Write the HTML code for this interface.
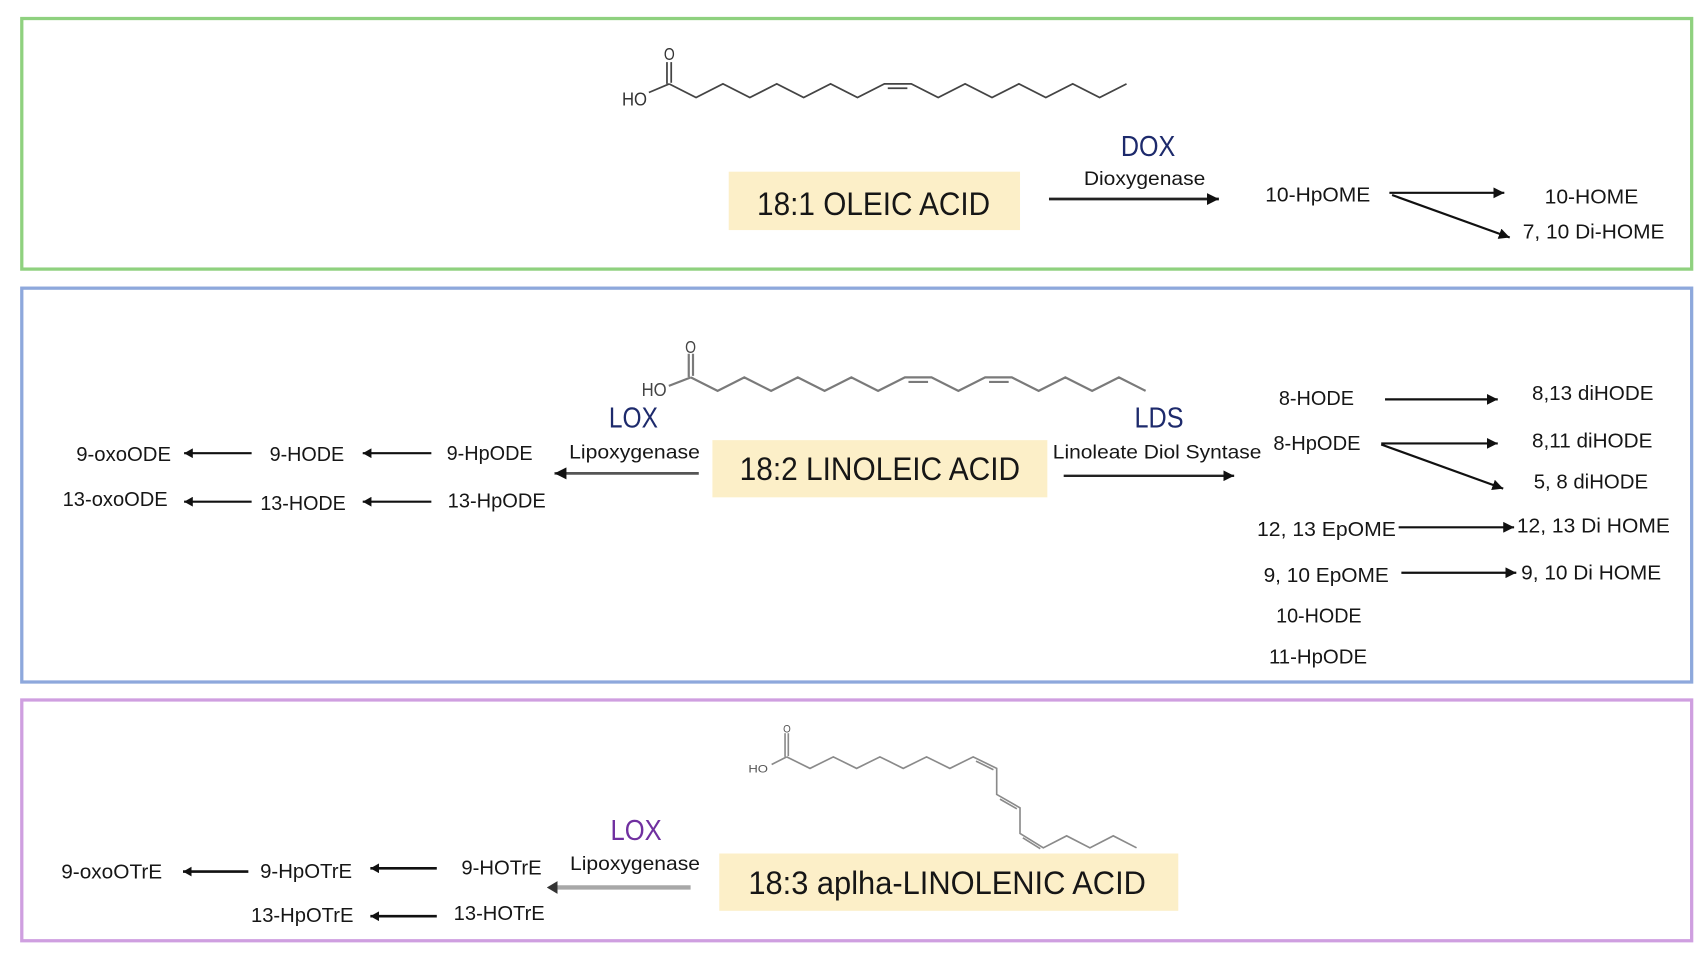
<!DOCTYPE html>
<html>
<head>
<meta charset="utf-8">
<style>
html,body{margin:0;padding:0;background:#fff;}
svg{display:block;}
text{font-family:"Liberation Sans",Arial,sans-serif;fill:#161616;}
.s{font-size:18.5px;}
.e{font-size:26px;fill:#1d2a6c;}
.p{font-size:26px;fill:#7030a0;}
.b{font-size:29.5px;}
.l{font-size:17.5px;}
</style>
</head>
<body>
<svg width="1708" height="962" viewBox="0 0 1568 883" preserveAspectRatio="none" xmlns="http://www.w3.org/2000/svg">
<defs>
<marker id="ah" viewBox="0 0 10 10" refX="10" refY="5" markerWidth="10" markerHeight="10" markerUnits="userSpaceOnUse" orient="auto">
<path d="M0,0 L10,5 L0,10 z" fill="#111"/>
</marker>
<marker id="ahb" viewBox="0 0 11 11" refX="11" refY="5.5" markerWidth="11" markerHeight="11" markerUnits="userSpaceOnUse" orient="auto">
<path d="M0,0 L11,5.5 L0,11 z" fill="#111"/>
</marker>
<marker id="ahs" viewBox="0 0 8 9" refX="8" refY="4.5" markerWidth="8" markerHeight="9" markerUnits="userSpaceOnUse" orient="auto">
<path d="M0,0 L8,4.5 L0,9 z" fill="#111"/>
</marker>
<marker id="ahg" viewBox="0 0 10 12" refX="4" refY="6" markerWidth="10" markerHeight="12" markerUnits="userSpaceOnUse" orient="auto">
<path d="M0,0 L10,6 L0,12 z" fill="#333"/>
</marker>
</defs>

<!-- section boxes -->
<rect x="20" y="17" width="1533" height="230" fill="none" stroke="#8fd17f" stroke-width="3"/>
<rect x="20" y="264.5" width="1533" height="361.5" fill="none" stroke="#8ea8dc" stroke-width="3"/>
<rect x="20" y="642.5" width="1533" height="221" fill="none" stroke="#cf9fe0" stroke-width="3"/>

<!-- yellow label boxes -->
<rect x="669" y="157.6" width="267.4" height="53.6" fill="#fcefc8"/>
<rect x="654" y="404" width="307.5" height="52.5" fill="#fcefc8"/>
<rect x="660.3" y="783.4" width="421.4" height="52.6" fill="#fcefc8"/>

<!-- ===== OLEIC structure ===== -->
<g stroke="#444" stroke-width="1.6" fill="none" stroke-linejoin="miter">
<polyline points="614.3,77 639,89.5 663.7,77 688.4,89.5 713.1,77 737.8,89.5 762.5,77 787.2,89.5 811.9,77 836.6,77 861.3,89.5 886,77 910.7,89.5 935.4,77 960.1,89.5 984.8,77 1009.5,89.5 1034.2,77"/>
<line x1="815" y1="81" x2="833" y2="81"/>
<line x1="612.3" y1="57" x2="612.3" y2="77"/>
<line x1="616.2" y1="57" x2="616.2" y2="76"/>
<line x1="595.7" y1="84.9" x2="614.3" y2="77"/>
</g>
<text x="609.5" y="55" style="font-size:16px;fill:#333" textLength="10" lengthAdjust="spacingAndGlyphs">O</text>
<text x="571" y="97" style="font-size:17px;fill:#333" textLength="23" lengthAdjust="spacingAndGlyphs">HO</text>

<!-- ===== LINOLEIC structure ===== -->
<g stroke="#7a7a7a" stroke-width="2" fill="none">
<polyline points="634.2,346.4 658.8,358.8 683.3,346.4 707.9,358.8 732.4,346.4 757,358.8 781.6,346.4 806.1,358.8 830.7,346.4 855.2,346.4 879.8,358.8 904.4,346.4 928.9,346.4 953.5,358.8 978,346.4 1002.6,358.8 1027.2,346.4 1051.7,358.8"/>
<line x1="834" y1="350.6" x2="852" y2="350.6"/>
<line x1="908" y1="350.6" x2="926" y2="350.6"/>
<line x1="632.3" y1="324.7" x2="632.3" y2="346"/>
<line x1="636.2" y1="324.7" x2="636.2" y2="345"/>
<line x1="614" y1="354.2" x2="634.2" y2="346.4"/>
</g>
<text x="629" y="324" style="font-size:16px;fill:#444" textLength="10" lengthAdjust="spacingAndGlyphs">O</text>
<text x="589" y="363.5" style="font-size:17px;fill:#444" textLength="23" lengthAdjust="spacingAndGlyphs">HO</text>

<!-- ===== LINOLENIC structure ===== -->
<g stroke="#8a8a8a" stroke-width="1.5" fill="none">
<polyline points="722.2,694.7 743.6,705.3 765,694.7 786.4,705.3 807.8,694.7 829.2,705.3 850.6,694.7 872,705.3 893.4,694.7 915,705.3 915,729.2 936.4,741.5 936.4,765 957.8,778.2 979.2,767.2 1000.6,778.2 1022,767.2 1043.4,778.2"/>
<line x1="896" y1="698.6" x2="912" y2="706.5"/>
<line x1="918" y1="733.5" x2="933.5" y2="742.4"/>
<line x1="939" y1="769" x2="955" y2="779"/>
<line x1="720.7" y1="673" x2="720.7" y2="694.7"/>
<line x1="723.7" y1="673" x2="723.7" y2="694"/>
<line x1="708.4" y1="701.7" x2="722.2" y2="694.7"/>
</g>
<text x="719" y="672.4" style="font-size:10px;fill:#555" textLength="7" lengthAdjust="spacingAndGlyphs">O</text>
<text x="687" y="709" style="font-size:10.5px;fill:#555" textLength="18" lengthAdjust="spacingAndGlyphs">HO</text>

<!-- ===== TOP section text ===== -->
<text class="b" x="695" y="197.4" textLength="214" lengthAdjust="spacingAndGlyphs">18:1 OLEIC ACID</text>
<text class="e" x="1029" y="143.2" textLength="50" lengthAdjust="spacingAndGlyphs">DOX</text>
<text class="l" x="995" y="169.8" textLength="111.5" lengthAdjust="spacingAndGlyphs">Dioxygenase</text>
<text class="s" x="1161.5" y="185.1" textLength="96.5" lengthAdjust="spacingAndGlyphs">10-HpOME</text>
<text class="s" x="1418" y="186.7" textLength="86" lengthAdjust="spacingAndGlyphs">10-HOME</text>
<text class="s" x="1398" y="218.8" textLength="130" lengthAdjust="spacingAndGlyphs">7, 10 Di-HOME</text>

<g stroke="#111" fill="none">
<line x1="963" y1="182.7" x2="1119" y2="182.7" stroke-width="2.5" stroke="#222" marker-end="url(#ahb)"/>
<line x1="1275.5" y1="177" x2="1381" y2="177" stroke-width="2" marker-end="url(#ah)"/>
<line x1="1278" y1="179" x2="1386" y2="218" stroke-width="2" marker-end="url(#ah)"/>
</g>

<!-- ===== MIDDLE section text ===== -->
<text class="b" x="679" y="440.7" textLength="257.5" lengthAdjust="spacingAndGlyphs">18:2 LINOLEIC ACID</text>
<text class="e" x="559" y="392.3" textLength="45" lengthAdjust="spacingAndGlyphs">LOX</text>
<text class="l" x="522.5" y="420.8" textLength="120" lengthAdjust="spacingAndGlyphs">Lipoxygenase</text>
<text class="e" x="1041.5" y="392.3" textLength="45" lengthAdjust="spacingAndGlyphs">LDS</text>
<text class="l" x="966.5" y="420.8" textLength="191.5" lengthAdjust="spacingAndGlyphs">Linoleate Diol Syntase</text>

<text class="s" x="70" y="423" textLength="87" lengthAdjust="spacingAndGlyphs">9-oxoODE</text>
<text class="s" x="247.5" y="423" textLength="68.5" lengthAdjust="spacingAndGlyphs">9-HODE</text>
<text class="s" x="410" y="422.3" textLength="79" lengthAdjust="spacingAndGlyphs">9-HpODE</text>
<text class="s" x="57.5" y="464.5" textLength="96.5" lengthAdjust="spacingAndGlyphs">13-oxoODE</text>
<text class="s" x="239" y="468.2" textLength="78.5" lengthAdjust="spacingAndGlyphs">13-HODE</text>
<text class="s" x="411" y="465.7" textLength="90" lengthAdjust="spacingAndGlyphs">13-HpODE</text>

<text class="s" x="1174" y="371.8" textLength="69" lengthAdjust="spacingAndGlyphs">8-HODE</text>
<text class="s" x="1406.4" y="367.2" textLength="111.6" lengthAdjust="spacingAndGlyphs">8,13 diHODE</text>
<text class="s" x="1169" y="413.1" textLength="80" lengthAdjust="spacingAndGlyphs">8-HpODE</text>
<text class="s" x="1406.4" y="410.6" textLength="110.6" lengthAdjust="spacingAndGlyphs">8,11 diHODE</text>
<text class="s" x="1408" y="448.3" textLength="105" lengthAdjust="spacingAndGlyphs">5, 8 diHODE</text>
<text class="s" x="1154" y="492.1" textLength="127.5" lengthAdjust="spacingAndGlyphs">12, 13 EpOME</text>
<text class="s" x="1392.5" y="489" textLength="140.5" lengthAdjust="spacingAndGlyphs">12, 13 Di HOME</text>
<text class="s" x="1160" y="534" textLength="115" lengthAdjust="spacingAndGlyphs">9, 10 EpOME</text>
<text class="s" x="1396.5" y="531.8" textLength="128.5" lengthAdjust="spacingAndGlyphs">9, 10 Di HOME</text>
<text class="s" x="1171.5" y="571.6" textLength="78.5" lengthAdjust="spacingAndGlyphs">10-HODE</text>
<text class="s" x="1165" y="609" textLength="90" lengthAdjust="spacingAndGlyphs">11-HpODE</text>

<g stroke="#111" fill="none">
<line x1="641.5" y1="434.5" x2="509" y2="434.5" stroke-width="2.5" stroke="#555" marker-end="url(#ahb)"/>
<line x1="231" y1="416" x2="169" y2="416" stroke-width="2" marker-end="url(#ahs)"/>
<line x1="396" y1="416" x2="333" y2="416" stroke-width="2" marker-end="url(#ahs)"/>
<line x1="231" y1="460.5" x2="169" y2="460.5" stroke-width="2" marker-end="url(#ahs)"/>
<line x1="396" y1="460.5" x2="333" y2="460.5" stroke-width="2" marker-end="url(#ahs)"/>
<line x1="976.5" y1="436.7" x2="1133" y2="436.7" stroke-width="2.2" stroke="#222" marker-end="url(#ah)"/>
<line x1="1271.5" y1="366.6" x2="1375" y2="366.6" stroke-width="2" marker-end="url(#ah)"/>
<line x1="1268" y1="407" x2="1375" y2="407" stroke-width="2" marker-end="url(#ah)"/>
<line x1="1268" y1="408" x2="1380" y2="448.5" stroke-width="2" marker-end="url(#ah)"/>
<line x1="1284" y1="484" x2="1390" y2="484" stroke-width="2" marker-end="url(#ah)"/>
<line x1="1286.5" y1="525.7" x2="1392" y2="525.7" stroke-width="2" marker-end="url(#ah)"/>
</g>

<!-- ===== BOTTOM section text ===== -->
<text class="b" x="687" y="820.7" textLength="365" lengthAdjust="spacingAndGlyphs">18:3 aplha-LINOLENIC ACID</text>
<text class="p" x="560.5" y="771.1" textLength="47" lengthAdjust="spacingAndGlyphs">LOX</text>
<text class="l" x="523.3" y="798.7" textLength="119.3" lengthAdjust="spacingAndGlyphs">Lipoxygenase</text>
<text class="s" x="56.2" y="806.3" textLength="92.7" lengthAdjust="spacingAndGlyphs">9-oxoOTrE</text>
<text class="s" x="238.8" y="805.7" textLength="84.4" lengthAdjust="spacingAndGlyphs">9-HpOTrE</text>
<text class="s" x="423.6" y="802.6" textLength="73.7" lengthAdjust="spacingAndGlyphs">9-HOTrE</text>
<text class="s" x="230.4" y="846.1" textLength="94.1" lengthAdjust="spacingAndGlyphs">13-HpOTrE</text>
<text class="s" x="416.5" y="844.6" textLength="83.6" lengthAdjust="spacingAndGlyphs">13-HOTrE</text>

<g stroke="#111" fill="none">
<line x1="634" y1="814.6" x2="508" y2="814.6" stroke-width="4" stroke="#a8a8a8" marker-end="url(#ahg)"/>
<line x1="228" y1="800" x2="168" y2="800" stroke-width="2.4" marker-end="url(#ahs)"/>
<line x1="401" y1="797" x2="340" y2="797" stroke-width="2.4" marker-end="url(#ahs)"/>
<line x1="401" y1="841" x2="340" y2="841" stroke-width="2.4" marker-end="url(#ahs)"/>
</g>
</svg>
</body>
</html>
